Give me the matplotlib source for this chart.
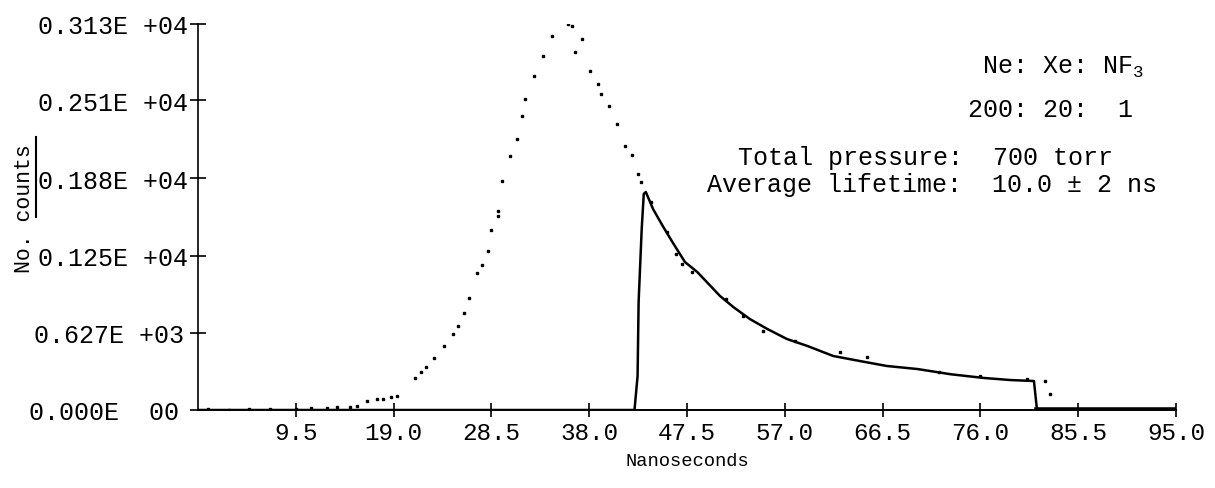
import matplotlib
matplotlib.use("Agg")
import matplotlib.pyplot as plt
from matplotlib.lines import Line2D

plt.rcParams['font.family'] = ['Liberation Mono', 'DejaVu Sans Mono']
plt.rcParams['mathtext.fontset'] = 'custom'
plt.rcParams['mathtext.rm'] = 'Liberation Mono'

# excitation pulse (dotted points)
pulse_x = [1.0, 3.0, 5.0, 7.0, 9.5, 11.0, 12.5, 13.5, 14.8, 15.4, 16.4, 17.4, 18.0,
           18.7, 19.3, 21.1, 21.7, 22.1, 22.9, 23.9, 24.8, 25.3, 25.8, 26.3, 27.1,
           27.6, 28.2, 28.5, 29.1, 29.1, 29.5, 30.3, 31.0, 31.5, 31.8, 32.6, 33.5,
           34.4, 35.9, 36.3, 36.6, 37.3, 38.1, 38.9, 39.1, 39.9, 40.7, 41.5, 42.2,
           42.7, 43.0]
pulse_y = [5, 3, 8, 6, 12, 20, 15, 25, 24, 32, 73, 89, 89, 105, 114, 260, 308, 349,
           422, 519, 616, 681, 787, 908, 1111, 1176, 1290, 1460, 1573, 1614, 1858,
           2060, 2198, 2384, 2522, 2708, 2870, 3033, 3130, 3114, 2903, 3009, 2749,
           2644, 2563, 2465, 2319, 2141, 2068, 1914, 1849]

# fluorescence decay (fitted line)
decay_x = [0.0, 42.4, 42.7, 42.8, 43.1, 43.3, 43.5, 44.2, 45.2, 46.2, 47.3, 48.5,
           49.6, 50.7, 52.0, 53.6, 55.3, 57.2, 59.2, 61.7, 64.3, 66.9, 69.9, 73.1,
           76.3, 78.9, 81.2, 81.5]
decay_y = [0, 0, 276, 876, 1468, 1752, 1768, 1630, 1484, 1346, 1200, 1119, 1022,
           925, 835, 738, 657, 576, 519, 438, 397, 357, 332, 290, 260, 243, 235, 0]

# scattered measured points around decay
data_x = [44.0, 45.6, 46.4, 47.0, 48.0, 51.3, 52.9, 54.9, 58.0, 62.4, 65.0, 72.0,
          76.0, 80.5, 82.3, 82.8]
data_y = [1690, 1440, 1265, 1184, 1119, 900, 762, 641, 560, 470, 430, 310, 275,
          250, 235, 130]

# noisy baseline after pulse end
tail_x = [81.5, 95.0]
tail_y = [4, 4]

xticks = [9.5, 19.0, 28.5, 38.0, 47.5, 57.0, 66.5, 76.0, 85.5, 95.0]
xtick_labels = ["9.5", "19.0", "28.5", "38.0", "47.5", "57.0", "66.5", "76.0", "85.5", "95.0"]
yticks = [0, 627, 1250, 1880, 2510, 3130]
ytick_labels = ["0.000E  00", "0.627E +03", "0.125E +04", "0.188E +04", "0.251E +04", "0.313E +04"]

W, H = 1215, 489
fig = plt.figure(figsize=(W / 100, H / 100), dpi=100)
ax_w = (1176 - 198) / W
ax = fig.add_axes([198 / W, 1 - 411 / H, ax_w, (411 - 25) / H])

ax.plot(decay_x, decay_y, color='black', lw=1.8)
ax.plot(tail_x, tail_y, color='black', lw=4)
ax.plot(pulse_x, pulse_y, ls='none', marker='s', ms=2.0, color='black')
ax.plot(data_x, data_y, ls='none', marker='s', ms=1.6, color='black')

ax.set_xlim(0, 95)
ax.set_ylim(0, 3130)
for s in ['top', 'right']:
    ax.spines[s].set_visible(False)
ax.spines['left'].set_linewidth(1.2)
ax.spines['bottom'].set_linewidth(1.4)

ax.set_xticks(xticks)
ax.set_xticklabels(xtick_labels, fontsize=17.5)
ax.set_yticks(yticks)
ax.set_yticklabels(ytick_labels, fontsize=18)
ax.tick_params(axis='x', direction='inout', length=10, width=1.2, pad=3)
ax.tick_params(axis='y', direction='inout', length=12, width=1.2, pad=1)

# shift the lowest y tick label a little to the left, as in the original
ax.yaxis.get_major_ticks()[0].label1.set_x(-9 / 978)
ax.yaxis.get_major_ticks()[1].label1.set_x(-4 / 978)

ax.set_xlabel("Nanoseconds", fontsize=13.5, labelpad=6)

# y label with underlined "counts"
fig.text(25 / W, 1 - 209 / H, "No. counts", rotation=90, fontsize=15.5,
         ha='center', va='center')
fig.add_artist(Line2D([36 / W, 36 / W], [1 - 138 / H, 1 - 218 / H],
                      transform=fig.transFigure, color='black', lw=1.5))

# annotation
fs = 18
fig.text(982 / W, 1 - 67 / H, r"Ne: Xe: NF$_\mathrm{3}$", fontsize=fs, ha='left', va='center')
fig.text(968 / W, 1 - 110 / H, "200: 20:  1", fontsize=fs, ha='left', va='center')
fig.text(738 / W, 1 - 158 / H, "Total pressure:  700 torr", fontsize=fs, ha='left', va='center')
fig.text(707 / W, 1 - 185 / H, "Average lifetime:  10.0 ± 2 ns", fontsize=fs, ha='left', va='center')

fig.savefig("out.png", dpi=100)
